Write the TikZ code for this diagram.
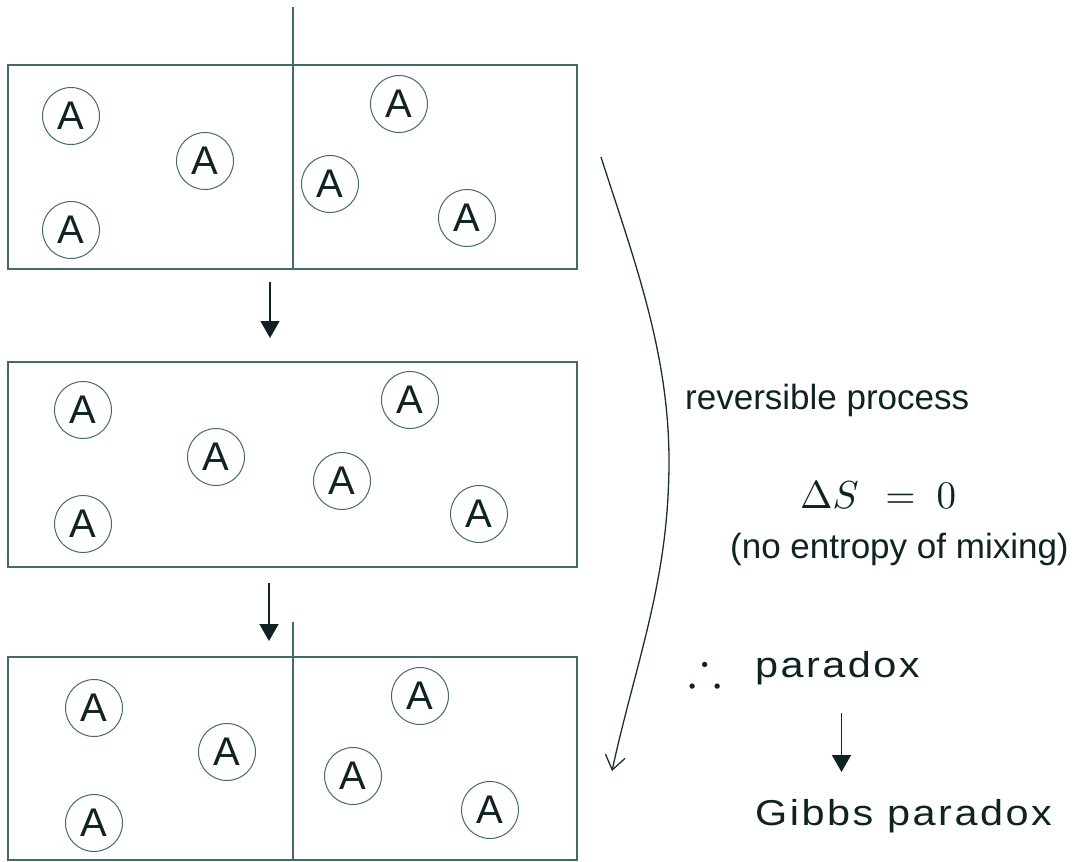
\documentclass[tikz,border=0pt]{standalone}
\usepackage{fontspec}
\usepackage{amssymb}
\usetikzlibrary{arrows.meta}
\newfontfamily\sfx{Liberation Sans}
\newfontfamily\sfw[LetterSpace=6]{Liberation Sans}
\definecolor{lineC}{RGB}{70,105,110}
\definecolor{txtC}{RGB}{15,35,35}
\begin{document}
\begin{tikzpicture}[x=1pt,y=-1pt,
  box/.style={draw=lineC,line width=1.6pt,rectangle,inner sep=0pt,minimum width=569pt},
  part/.style={draw=lineC,line width=1.4pt},
  atom/.style={circle,draw=lineC,line width=1pt,minimum size=57pt,inner sep=0pt,text=txtC,font=\sfx\fontsize{40}{40}\selectfont},
  down/.style={draw=txtC,line width=1.6pt,-{Triangle[length=17pt,width=19pt]}},
  lbl/.style={anchor=base west,inner sep=0pt,text=txtC},
  curv/.style={draw=txtC!80!lineC,line width=1.3pt,-{Straight Barb[length=14pt,width=20pt,line width=1.3pt]}}]
\useasboundingbox (0,0) rectangle (1085,862);
\fill[white] (0,0) rectangle (1085,862);
% boxes
\node[box,minimum height=204pt] (box1) at (292.5,167) {};
\node[box,minimum height=205pt] (box2) at (292.5,464.5) {};
\node[box,minimum height=203pt] (box3) at (292.5,758.5) {};
% partitions
\coordinate (p1t) at (293,7);
\coordinate (p3t) at (293,622);
\draw[part] (p1t) -- (p1t |- box1.south);
\draw[part] (p3t) -- (p3t |- box3.south);
% atoms box1
\node[atom] (a11) at (71,116) {A};
\node[atom] (a12) at (205,161) {A};
\node[atom] (a13) at (71,230) {A};
\node[atom] (a14) at (399,104) {A};
\node[atom] (a15) at (330,184) {A};
\node[atom] (a16) at (467,218) {A};
% atoms box2
\node[atom] (a21) at (83,410) {A};
\node[atom] (a22) at (216,457) {A};
\node[atom] (a23) at (83,524) {A};
\node[atom] (a24) at (410,400) {A};
\node[atom] (a25) at (342,481) {A};
\node[atom] (a26) at (479,514) {A};
% atoms box3
\node[atom] (a31) at (94,708) {A};
\node[atom] (a32) at (227,752) {A};
\node[atom] (a33) at (94,823) {A};
\node[atom] (a34) at (420,696) {A};
\node[atom] (a35) at (353,776) {A};
\node[atom] (a36) at (490,810) {A};
% arrows between boxes
\coordinate (d1s) at (270,282);
\coordinate (d1e) at (270,338);
\coordinate (d2s) at (269,583);
\coordinate (d2e) at (269,641);
\draw[down] (d1s) -- (d1e);
\draw[down] (d2s) -- (d2e);
% curved arrow
\coordinate (cs) at (601,157);
\coordinate (cm) at (669,461);
\coordinate (ce) at (612,771);
\draw[curv] (cs) .. controls (633,257) and (669,351) .. (cm)
  .. controls (669,581) and (636,661) .. (ce);
% texts
\node[lbl,font=\sfx\fontsize{35}{40}\selectfont] (rev) at (685,409) {reversible process};
\node[lbl] (ds) at (800,508) {\scalebox{3.9}{$\Delta S\hspace{4pt}=\hspace{2.6pt}0$}};
\node[lbl,font=\sfx\fontsize{35}{40}\selectfont] (mix) at (730,558) {(no entropy of mixing)};
\node[lbl] (thf) at (688,685) {\scalebox{5}{$\therefore$}};
\node[lbl,font=\sfw\fontsize{36}{40}\selectfont] (par) at (755,677) {\scalebox{1.15}[1]{paradox}};
\node[lbl,font=\sfw\fontsize{36}{40}\selectfont] (gib) at (755,825) {\scalebox{1.15}[1]{Gibbs paradox}};
\coordinate (g1) at (841.5,713);
\coordinate (g2) at (841.5,772);
\draw[down] (g1) -- (g2);
\end{tikzpicture}
\end{document}
